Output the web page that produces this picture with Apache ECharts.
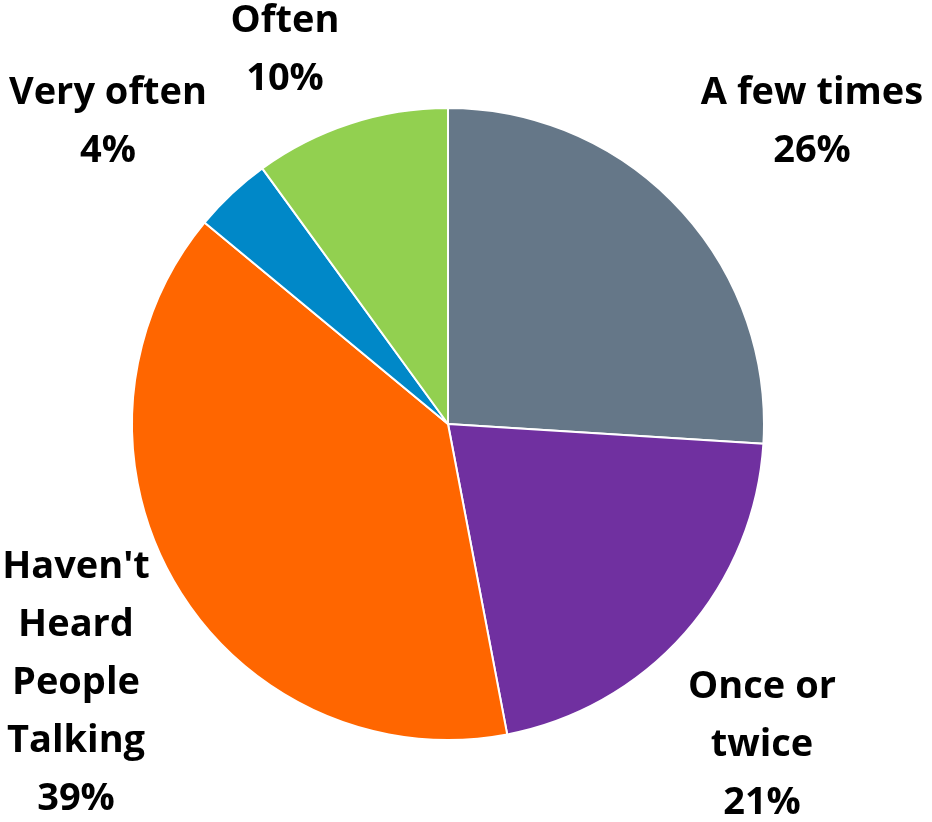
<!DOCTYPE html>
<html>
<head>
<meta charset="utf-8">
<script src="https://cdn.jsdelivr.net/npm/echarts@6/dist/echarts.min.js"></script>
<style>
  html, body { margin: 0; padding: 0; background: #fff; }
  #chart { width: 932px; height: 822px; }
</style>
</head>
<body>
<div id="chart"></div>
<script>
// answers, clockwise from 12 o'clock
const categories = ['A few times', 'Once or\ntwice', "Haven't\nHeard\nPeople\nTalking", 'Very often', 'Often'];
const percents = [26, 21, 39, 4, 10];
const colors = ['#657788', '#7030A0', '#FF6600', '#0088C8', '#92D050'];

// where each label block sits (centre of text)
const labelSpots = [[812, 122], [762, 745], [76, 683], [108, 122], [285, 50]];

const chart = echarts.init(document.getElementById('chart'));

chart.setOption({
  animation: false,
  series: [{
    type: 'pie',
    center: [448, 424],
    radius: 316,
    startAngle: 90,
    clockwise: true,
    data: categories.map((name, i) => ({
      name: name,
      value: percents[i],
      itemStyle: { color: colors[i] }
    })),
    itemStyle: { borderColor: '#fff', borderWidth: 2 },
    label: {
      show: true,
      position: 'outside',
      formatter: p => p.name + '\n' + p.value + '%',
      fontFamily: 'Open Sans',
      fontWeight: 'bold',
      fontSize: 38,
      lineHeight: 58,
      color: '#000',
      align: 'center',
      overflow: 'none'
    },
    labelLine: { show: false },
    labelLayout: p => ({
      x: labelSpots[p.dataIndex][0],
      y: labelSpots[p.dataIndex][1],
      align: 'center',
      verticalAlign: 'middle',
      width: 400
    })
  }]
});
</script>
</body>
</html>
